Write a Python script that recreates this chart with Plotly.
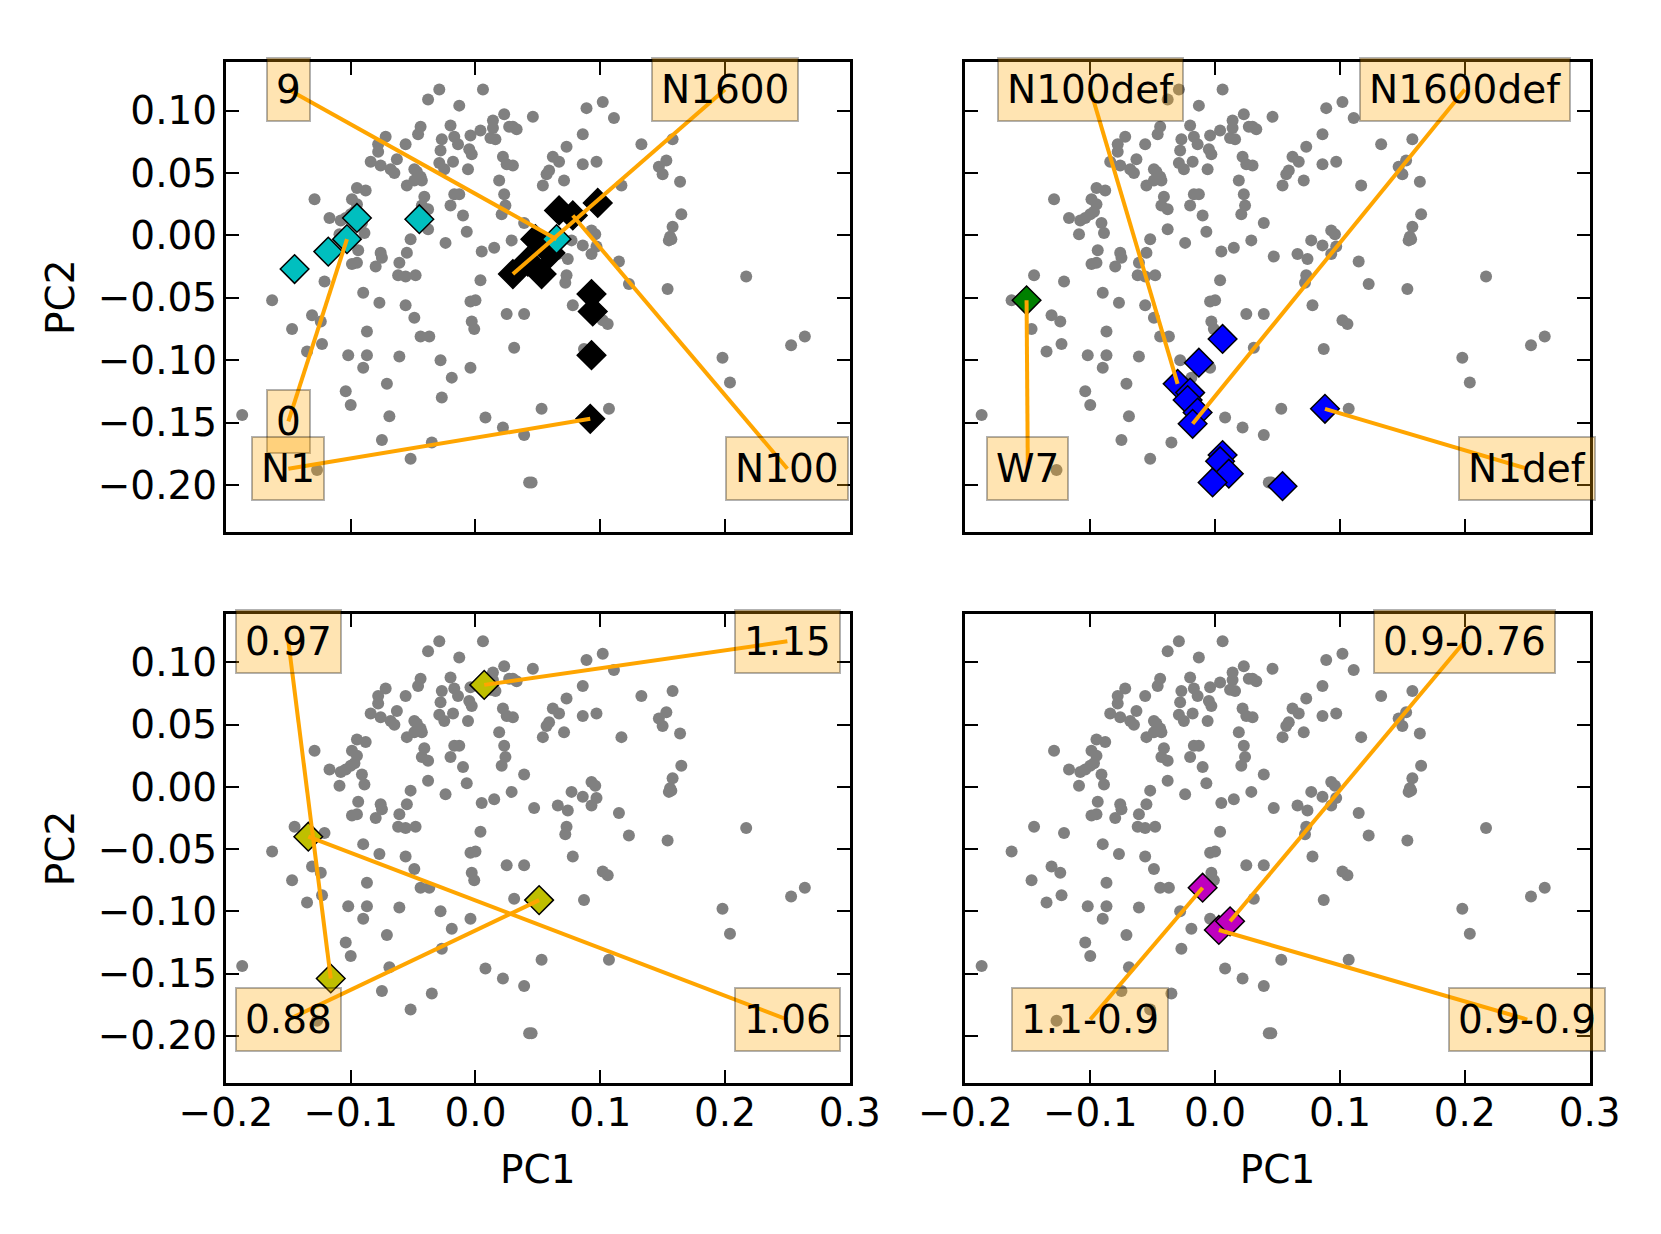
import plotly.graph_objects as go

# Background cloud of models (PC1, PC2), the same in every panel
bg_pc1 = [
    -0.129, -0.117, -0.108, -0.104, -0.100, -0.097, -0.095, -0.099, -0.095, -0.088,
    -0.091, -0.089, -0.109, -0.084, -0.076, -0.068, -0.065, -0.063, -0.078, -0.078,
    -0.072, -0.056, -0.046, -0.044, -0.038, -0.029, -0.013, 0.006, -0.020, -0.027,
    -0.017, -0.014, -0.028, -0.029, -0.025, -0.018, -0.004, 0.004, 0.014, 0.014,
    0.012, 0.016, 0.023, 0.027, -0.005, -0.003, -0.006, 0.022, 0.025, 0.019,
    -0.049, -0.047, -0.044, -0.043, -0.049, -0.055, -0.041, -0.043, -0.038, -0.017,
    -0.013, -0.020, -0.010, 0.023, 0.024, 0.021, -0.038, -0.007,
    0.030, 0.033, 0.046, 0.030, 0.089, 0.102, 0.111, 0.086, 0.073, 0.062,
    0.067, 0.086, 0.097, 0.059, 0.057, 0.071, 0.054, 0.117, 0.133, 0.158,
    0.153, 0.147, 0.150, 0.164, 0.165, 0.158, 0.156, 0.039, 0.093, 0.096,
    0.029, 0.047, 0.066, 0.074, 0.077, 0.086, 0.093, 0.097, 0.115, 0.155,
    0.157, 0.073, 0.072, 0.123, 0.154, 0.217, 0.078, 0.039, 0.102, 0.106,
    0.031, 0.087, 0.198, 0.204, 0.253, 0.264, 0.053, 0.107, 0.039, 0.043, 0.045,
    -0.052, -0.024, -0.094, -0.076, -0.075, -0.055, -0.061, -0.099, -0.095,
    -0.080, 0.005, 0.015, -0.145, -0.121, -0.062, -0.056, -0.048, 0.004, -0.163,
    -0.090, -0.077, -0.056, -0.049, -0.004, 0.000, -0.131, -0.124, -0.147, -0.087,
    -0.044, -0.037, -0.003, -0.001, 0.025, -0.123, -0.135, -0.102, -0.087, -0.061,
    -0.028, -0.090, -0.019, -0.004, -0.071, -0.104, -0.100, -0.027, 0.008, 0.022,
    -0.069, -0.187, -0.075, -0.035, -0.127, -0.052,
]
bg_pc2 = [
    0.029, 0.014, 0.012, 0.014, 0.017, 0.019, 0.025, 0.029, 0.038, 0.036,
    0.010, 0.002, 0.001, 0.059, 0.056, 0.053, 0.050, 0.061, 0.067, 0.073,
    0.079, 0.073, 0.081, 0.087, 0.109, 0.117, 0.104, 0.117, 0.088, 0.077,
    0.079, 0.073, 0.068, 0.058, 0.053, 0.059, 0.080, 0.084, 0.092, 0.086,
    0.078, 0.077, 0.097, 0.087, 0.069, 0.065, 0.053, 0.063, 0.057, 0.044,
    0.053, 0.051, 0.047, 0.044, 0.044, 0.040, 0.031, 0.024, 0.021, 0.033,
    0.033, 0.024, 0.016, 0.033, 0.024, 0.017, 0.005, 0.003,
    0.087, 0.085, 0.095, 0.056, 0.102, 0.107, 0.094, 0.081, 0.071, 0.063,
    0.059, 0.057, 0.059, 0.052, 0.049, 0.044, 0.040, 0.040, 0.073, 0.077,
    0.060, 0.055, 0.049, 0.043, 0.017, 0.007, -0.001, 0.010, 0.004, 0.001,
    -0.004, -0.017, -0.015, -0.019, -0.004, -0.008, -0.015, -0.009, -0.021, -0.004,
    -0.003, -0.032, -0.038, -0.039, -0.043, -0.033, -0.056, -0.063, -0.068, -0.071,
    -0.090, -0.091, -0.098, -0.118, -0.088, -0.081, -0.139, -0.139, -0.160, -0.198, -0.198,
    -0.003, -0.006, -0.012, -0.014, -0.018, -0.014, -0.022, -0.023, -0.022,
    -0.025, -0.013, -0.010, -0.032, -0.037, -0.032, -0.033, -0.032, -0.036, -0.052,
    -0.046, -0.054, -0.056, -0.066, -0.053, -0.052, -0.064, -0.069, -0.075, -0.077,
    -0.081, -0.081, -0.069, -0.075, -0.063, -0.087, -0.093, -0.096, -0.096, -0.097,
    -0.100, -0.106, -0.114, -0.106, -0.119, -0.125, -0.136, -0.130, -0.146, -0.154,
    -0.145, -0.144, -0.164, -0.166, -0.188, -0.179,
]

# Panel 1: series of models
black_pc1 = [0.067, 0.078, 0.098, 0.048, 0.060, 0.042, 0.030, 0.053, 0.093, 0.094, 0.093, 0.092]
black_pc2 = [0.020, 0.016, 0.026, -0.003, -0.014, -0.021, -0.031, -0.031, -0.047, -0.061, -0.096, -0.147]
cyan_pc1 = [-0.145, -0.118, -0.103, -0.095, -0.045, 0.065]
cyan_pc2 = [-0.027, -0.013, -0.003, 0.014, 0.013, -0.003]

# Panel 2: W7 and deflagrations
green_pc1 = [-0.151]
green_pc2 = [-0.052]
blue_pc1 = [0.006, -0.013, -0.030, -0.020, -0.022, -0.014, -0.018, 0.088, 0.006, 0.004, 0.011, -0.002, 0.054]
blue_pc2 = [-0.083, -0.102, -0.119, -0.126, -0.132, -0.142, -0.151, -0.139, -0.176, -0.181, -0.191, -0.198, -0.201]

# Panel 3: sub-Chandrasekhar masses
yellow_pc1 = [0.007, -0.134, 0.051, -0.116]
yellow_pc2 = [0.082, -0.040, -0.091, -0.154]

# Panel 4: mergers
magenta_pc1 = [-0.010, 0.003, 0.012]
magenta_pc2 = [-0.081, -0.115, -0.108]

# labels: (text, label pc1, label pc2, series, index of annotated model)
labels_1 = [("9", -0.15, 0.117, "cyan", 5), ("N1600", 0.20, 0.117, "black", 6),
            ("0", -0.15, -0.149, "cyan", 2), ("N1", -0.15, -0.187, "black", 11),
            ("N100", 0.25, -0.187, "black", 1)]
labels_2 = [("N100def", -0.10, 0.117, "blue", 2), ("N1600def", 0.20, 0.117, "blue", 6),
            ("W7", -0.15, -0.187, "green", 0), ("N1def", 0.25, -0.187, "blue", 7)]
labels_3 = [("0.97", -0.15, 0.117, "yellow", 3), ("1.15", 0.25, 0.117, "yellow", 0),
            ("0.88", -0.15, -0.187, "yellow", 2), ("1.06", 0.25, -0.187, "yellow", 1)]
labels_4 = [("0.9-0.76", 0.20, 0.117, "magenta", 2), ("1.1-0.9", -0.10, -0.187, "magenta", 0),
            ("0.9-0.9", 0.25, -0.187, "magenta", 1)]

series = {
    "black": (black_pc1, black_pc2, "#000000"),
    "cyan": (cyan_pc1, cyan_pc2, "#00BFBF"),
    "green": (green_pc1, green_pc2, "#008000"),
    "blue": (blue_pc1, blue_pc2, "#0000FF"),
    "yellow": (yellow_pc1, yellow_pc2, "#BFBF00"),
    "magenta": (magenta_pc1, magenta_pc2, "#BF00BF"),
}

panels = [
    (["black", "cyan"], labels_1),
    (["green", "blue"], labels_2),
    (["yellow"], labels_3),
    (["magenta"], labels_4),
]

FONT = "DejaVu Sans"
FS = 39
fig = go.Figure()
annotations = []

for i, (names, labels) in enumerate(panels):
    xa = "x" if i == 0 else "x%d" % (i + 1)
    ya = "y" if i == 0 else "y%d" % (i + 1)
    fig.add_trace(go.Scatter(
        x=bg_pc1, y=bg_pc2, xaxis=xa, yaxis=ya, mode="markers",
        marker=dict(size=12, color="#808080"), hoverinfo="skip"))
    for name in names:
        px, py, col = series[name]
        fig.add_trace(go.Scatter(
            x=px, y=py, xaxis=xa, yaxis=ya, mode="markers",
            marker=dict(symbol="diamond", size=22, color=col,
                        line=dict(color="black", width=1.5)),
            hoverinfo="skip"))
    for text, lx, ly, name, idx in labels:
        px, py, _ = series[name]
        fig.add_trace(go.Scatter(
            x=[lx, px[idx]], y=[ly, py[idx]], xaxis=xa, yaxis=ya, mode="lines",
            line=dict(color="#FFA500", width=4), hoverinfo="skip"))
        annotations.append(dict(
            text=text, x=lx, y=ly, xref=xa, yref=ya, showarrow=False,
            font=dict(family=FONT, size=FS, color="black"),
            bgcolor="rgba(255,165,0,0.3)", bordercolor="rgba(0,0,0,0.3)",
            borderwidth=2, borderpad=8))

# page body keeps an 8 px margin, so the figure is 16 px smaller than the window
W, H = 1645, 1218
x_dom = [[0.1325, 0.5117], [0.5820, 0.9615]]
y_dom = [[0.5695, 0.9557], [0.1174, 0.5025]]

axis_style = dict(showline=True, linecolor="black", linewidth=3, mirror="allticks",
                  ticks="inside", ticklen=13, tickwidth=2, tickcolor="black",
                  showgrid=False, zeroline=False, automargin=False,
                  tickfont=dict(family=FONT, size=FS, color="black"))

layout = dict(
    width=W, height=H, margin=dict(l=0, r=0, t=0, b=0),
    paper_bgcolor="white", plot_bgcolor="white", showlegend=False,
    font=dict(family=FONT, size=FS, color="black"),
    annotations=annotations,
)
for i in range(4):
    row, col = divmod(i, 2)
    suffix = "" if i == 0 else str(i + 1)
    xa = dict(axis_style, domain=x_dom[col], range=[-0.2, 0.3], dtick=0.1, tick0=0,
              tickformat=".1f", anchor="y" + suffix, showticklabels=(row == 1),
              ticklabelstandoff=-7)
    ya = dict(axis_style, domain=y_dom[row], range=[-0.238, 0.139], dtick=0.05, tick0=0,
              tickformat=".2f", anchor="x" + suffix, showticklabels=(col == 0),
              ticklabelstandoff=-2)
    if row == 1:
        xa["title"] = dict(text="PC1", font=dict(family=FONT, size=FS), standoff=22)
    if col == 0:
        ya["title"] = dict(text="PC2", font=dict(family=FONT, size=FS), standoff=11)
    layout["xaxis" + suffix] = xa
    layout["yaxis" + suffix] = ya

fig.update_layout(**layout)
fig.write_html("out.html")
